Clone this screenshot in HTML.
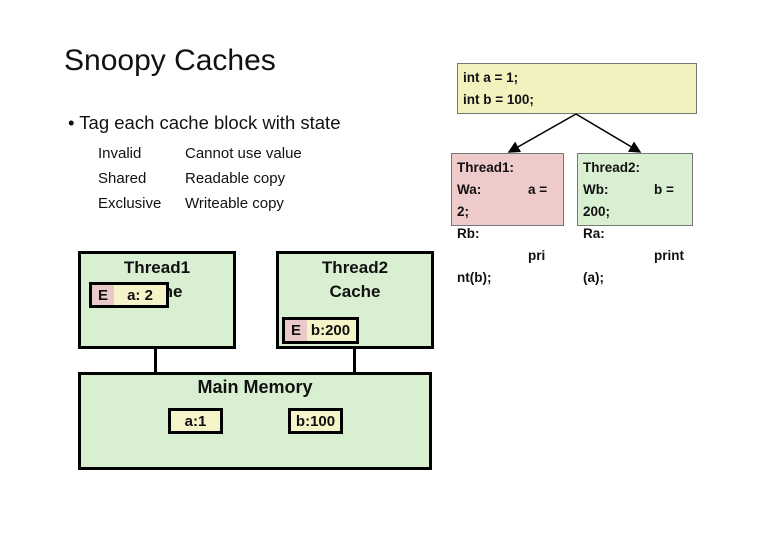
<!DOCTYPE html>
<html><head><style>
body{margin:0;width:780px;height:540px;background:#fff;position:relative;overflow:hidden;font-family:"Liberation Sans",sans-serif;}
.a{position:absolute;white-space:nowrap;}
.box{position:absolute;box-sizing:border-box;border:3px solid #000;background:#d8efd2;}
.sb{position:absolute;box-sizing:border-box;}
.b{font-weight:bold;color:#111;}
.c{font-size:13.5px;line-height:22px;color:#111;font-weight:bold;}
.t{position:absolute;box-sizing:border-box;display:flex;align-items:center;justify-content:center;font-size:15px;font-weight:bold;color:#111;}
</style></head><body>
<div class="a" style="left:64px;top:44px;font-size:30px;color:#111;">Snoopy Caches</div>
<div class="a" style="left:68px;top:112px;font-size:18.5px;color:#111;">• Tag each cache block with state</div>
<div class="a" style="left:98px;top:141px;font-size:15px;line-height:25px;color:#111;">Invalid<br>Shared<br>Exclusive</div>
<div class="a" style="left:185px;top:141px;font-size:15px;line-height:25px;color:#111;">Cannot use value<br>Readable copy<br>Writeable copy</div>

<div class="box" style="left:78px;top:251px;width:158px;height:98px;"></div>
<div class="a b" style="left:78px;top:256px;width:158px;text-align:center;font-size:17px;line-height:24px;">Thread1<br>Cache</div>
<div class="sb" style="left:89px;top:282px;width:80px;height:26px;border:3px solid #000;background:#f5f3c8;"></div>
<div class="sb" style="left:89px;top:282px;width:25px;height:26px;border:3px solid #000;border-right:none;background:#ebc9c9;"></div>
<div class="t" style="left:92px;top:285px;width:22px;height:20px;">E</div>
<div class="t" style="left:114px;top:285px;width:52px;height:20px;">a: 2</div>

<div class="box" style="left:276px;top:251px;width:158px;height:98px;"></div>
<div class="a b" style="left:276px;top:256px;width:158px;text-align:center;font-size:17px;line-height:24px;">Thread2<br>Cache</div>
<div class="sb" style="left:282px;top:317px;width:77px;height:27px;border:3px solid #000;background:#f5f3c8;"></div>
<div class="sb" style="left:282px;top:317px;width:25px;height:27px;border:3px solid #000;border-right:none;background:#ebc9c9;"></div>
<div class="t" style="left:285px;top:320px;width:22px;height:21px;">E</div>
<div class="t" style="left:305px;top:320px;width:51px;height:21px;">b:200</div>

<div class="sb" style="left:154px;top:348px;width:3px;height:25px;background:#000;"></div>
<div class="sb" style="left:353px;top:348px;width:3px;height:25px;background:#000;"></div>

<div class="box" style="left:78px;top:372px;width:354px;height:98px;"></div>
<div class="a b" style="left:78px;top:377px;width:354px;text-align:center;font-size:18px;">Main Memory</div>
<div class="sb" style="left:168px;top:408px;width:55px;height:26px;border:3px solid #000;background:#f5f3c8;"></div>
<div class="t" style="left:168px;top:408px;width:55px;height:26px;">a:1</div>
<div class="sb" style="left:288px;top:408px;width:55px;height:26px;border:3px solid #000;background:#f5f3c8;"></div>
<div class="t" style="left:288px;top:408px;width:55px;height:26px;">b:100</div>

<div class="sb" style="left:457px;top:63px;width:240px;height:51px;border:1px solid #777;background:#f3f2bf;"></div>
<div class="a c" style="left:463px;top:67px;">int a = 1;<br>int b = 100;</div>

<div class="sb" style="left:451px;top:153px;width:113px;height:73px;border:1px solid #777;background:#efcaca;"></div>
<div class="sb" style="left:577px;top:153px;width:116px;height:73px;border:1px solid #777;background:#d8efd2;"></div>
<svg class="a" style="left:0;top:0" width="780" height="540">
<defs><marker id="m" markerWidth="8" markerHeight="8" refX="7" refY="4" orient="auto"><path d="M0,0 L8,4 L0,8z" fill="#000"/></marker></defs>
<line x1="576" y1="114" x2="509" y2="152" stroke="#000" stroke-width="1.5" marker-end="url(#m)"/>
<line x1="576" y1="114" x2="640" y2="152" stroke="#000" stroke-width="1.5" marker-end="url(#m)"/>
</svg>
<div class="a c" style="left:457px;top:157px;">Thread1:<br>Wa:<br>2;<br>Rb:<br><br>nt(b);</div>
<div class="a c" style="left:528px;top:179px;">a =</div>
<div class="a c" style="left:528px;top:245px;">pri</div>
<div class="a c" style="left:583px;top:157px;">Thread2:<br>Wb:<br>200;<br>Ra:<br><br>(a);</div>
<div class="a c" style="left:654px;top:179px;">b =</div>
<div class="a c" style="left:654px;top:245px;">print</div>
</body></html>
